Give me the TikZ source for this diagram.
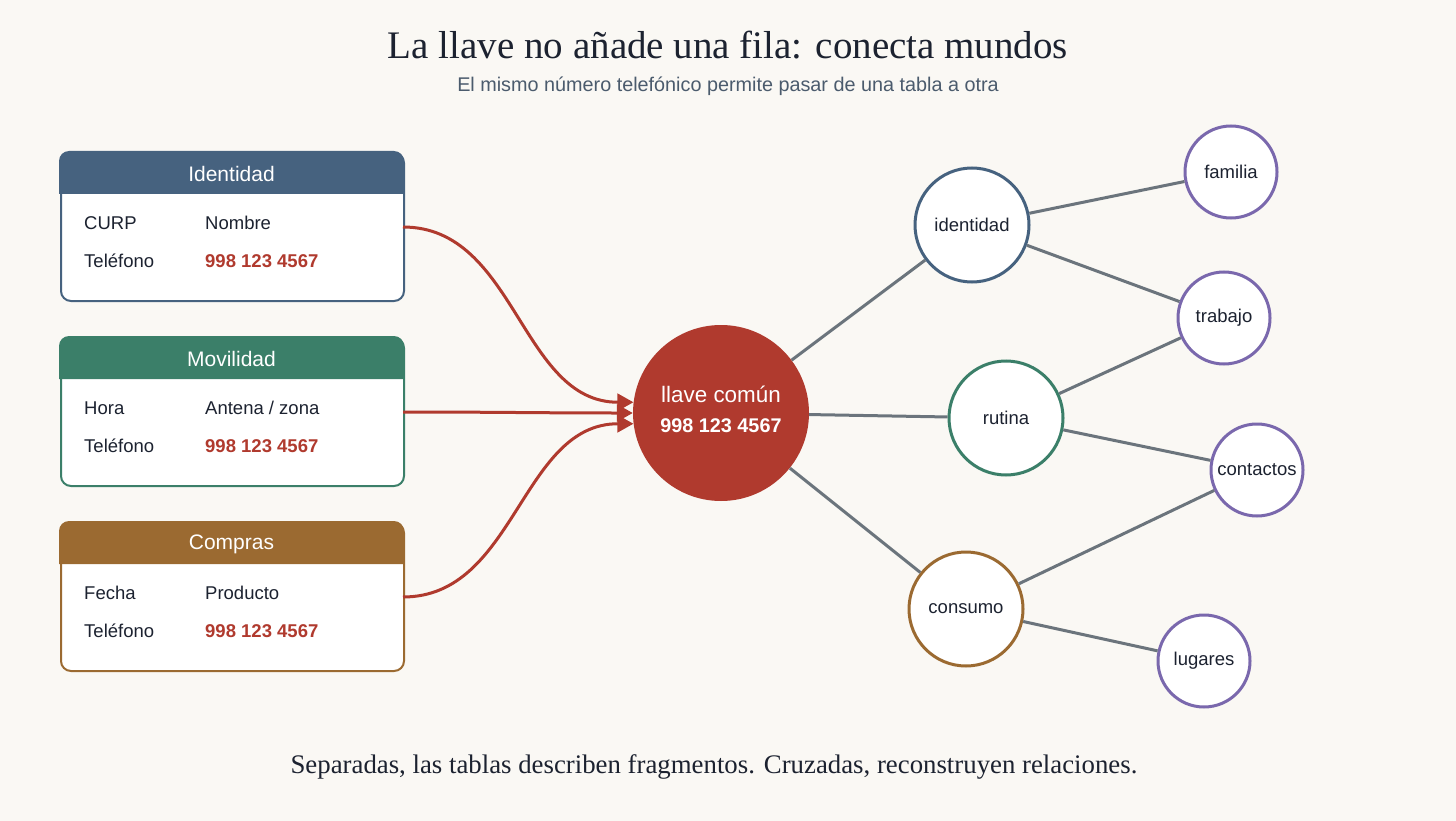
\documentclass[tikz,border=0pt]{standalone}
\usepackage{fontspec}
\setmainfont{Liberation Serif}
\setsansfont{Liberation Sans}
\usetikzlibrary{positioning,arrows.meta,calc}

\definecolor{paper}{HTML}{FAF8F4}
\definecolor{ink}{HTML}{1C2230}
\definecolor{subink}{HTML}{4B5B6D}
\definecolor{idblue}{HTML}{46627F}
\definecolor{movgreen}{HTML}{3B7F69}
\definecolor{buybrown}{HTML}{9B6A31}
\definecolor{keyred}{HTML}{B03A2E}
\definecolor{leafpurple}{HTML}{7A68AD}
\definecolor{edgegray}{HTML}{6B747C}

\tikzset{
  card/.style={draw=#1, line width=2pt, fill=white, rounded corners=10pt,
    minimum width=343pt, minimum height=148pt, anchor=north west, inner sep=0pt},
  field/.style={anchor=west, inner sep=0pt, text=ink,
    font=\sffamily\fontsize{18.5}{22}\selectfont},
  phone/.style={field, text=keyred, font=\sffamily\bfseries\fontsize{18.5}{22}\selectfont},
  hub/.style={circle, fill=keyred, minimum size=176pt, inner sep=0pt, text=white,
    align=center},
  topic/.style={circle, draw=#1, line width=3pt, fill=white, minimum size=114pt,
    inner sep=0pt, text=ink, font=\sffamily\fontsize{18.5}{22}\selectfont},
  leaf/.style={topic=leafpurple, minimum size=92pt},
  feed/.style={draw=keyred, line width=3pt, -{Triangle[length=16pt,width=17pt]}},
  link/.style={draw=edgegray, line width=3pt}
}

\begin{document}
\begin{tikzpicture}[x=1pt,y=-1pt]
\useasboundingbox[fill=paper] (0,0) rectangle (1456,821);

% titulos
\node[text=ink, font=\fontsize{39}{46}\selectfont] (title) at (728,45) {La llave no añade una fila: conecta mundos};
\node[text=subink, font=\sffamily\fontsize{19.8}{24}\selectfont] (subtitle) at (728,86) {El mismo número telefónico permite pasar de una tabla a otra};
\node[text=ink, font=\fontsize{26.8}{32}\selectfont] (caption) at (714,767) {Separadas, las tablas describen fragmentos. Cruzadas, reconstruyen relaciones.};

% llave central
\node[hub] (key) at (721,413) {};
\node[text=white, font=\sffamily\fontsize{22.4}{26}\selectfont] (keyname) at (721,394) {llave común};
\node[text=white, font=\sffamily\bfseries\fontsize{19.8}{24}\selectfont] (keynum) at (721,426) {998 123 4567};

% tablas
\foreach \nm/\ttl/\col/\yy/\fa/\fb/\ang in {ident/Identidad/idblue/152/CURP/Nombre/173,
    movil/Movilidad/movgreen/337/Hora/{Antena / zona}/180,
    compra/Compras/buybrown/522/Fecha/Producto/187}
{
  \node[card=\col] (\nm) at (60,\yy) {};
  \fill[\col, rounded corners=10pt] (59,\yy+42) -- (59,\yy-1) -- (404,\yy-1) [sharp corners] -- (404,\yy+42) -- cycle;
  \node[text=white, font=\sffamily\fontsize{21}{25}\selectfont] (\nm-title) at (231.5,\yy+22) {\ttl};
  \node[field] (\nm-a) at (84,\yy+71) {\fa};
  \node[field] (\nm-b) at (205,\yy+71) {\fb};
  \node[field] (\nm-tel) at (84,\yy+109) {Teléfono};
  \node[phone] (\nm-num) at (205,\yy+109) {998 123 4567};
  \coordinate (\nm-out) at (403,\yy+75);
  \draw[feed] (\nm-out) to[out=0, in=180] (key.\ang);
}

% mundos
\node[topic=idblue] (wid) at (972,225) {identidad};
\node[topic=movgreen] (wrut) at (1006,418) {rutina};
\node[topic=buybrown] (wcon) at (966,609) {consumo};
\node[leaf] (fam) at (1231,172) {familia};
\node[leaf] (trab) at (1224,318) {trabajo};
\node[leaf] (cont) at (1257,470) {contactos};
\node[leaf] (lug) at (1204,661) {lugares};

\begin{scope}[link]
\draw (key) -- (wid);
\draw (key) -- (wrut);
\draw (key) -- (wcon);
\draw (wid) -- (fam);
\draw (wid) -- (trab);
\draw (wrut) -- (trab);
\draw (wrut) -- (cont);
\draw (wcon) -- (cont);
\draw (wcon) -- (lug);
\end{scope}
\end{tikzpicture}
\end{document}
